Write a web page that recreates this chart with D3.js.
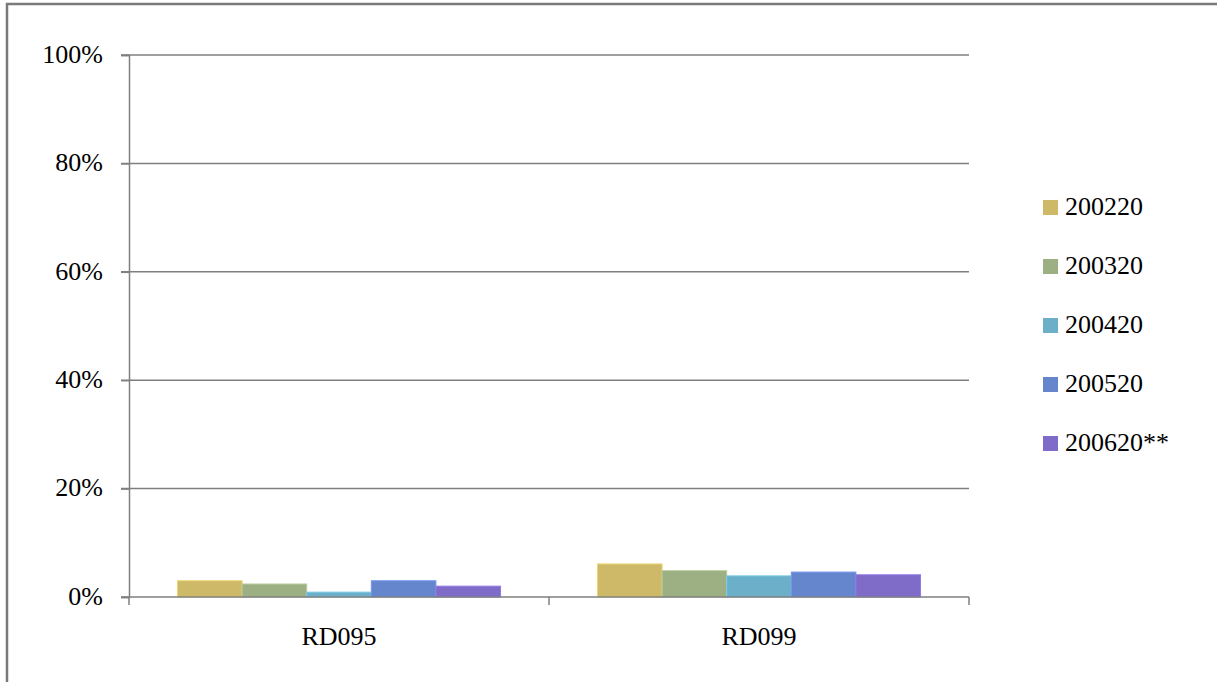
<html>
<head>
    <script src="https://d3js.org/d3.v7.min.js"></script>
    <style>
        body { margin: 0; background: #fff; }
        svg text { font-family: "Liberation Serif", "DejaVu Serif", serif; fill: #000; }
    </style>
</head>
<body>
<div id="chart"></div>
<script>
    // data
    var categories = ["RD095", "RD099"];
    var seriesNames = ["200220", "200320", "200420", "200520", "200620**"];
    var seriesValues = [
        [3.0, 6.1],   // 200220
        [2.4, 4.85],  // 200320
        [0.9, 3.9],   // 200420
        [3.0, 4.6],   // 200520
        [2.0, 4.1]    // 200620**
    ];
    var tickValues = [0, 20, 40, 60, 80, 100];
    var colors = ["#cdb967", "#9db083", "#6bb0c8", "#6585cd", "#7f6bc8"];

    var width = 1217, height = 682;
    var plotLeft = 129, plotRight = 969, plotTop = 55, plotBottom = 597;
    var fontSize = 26;

    var svg = d3.select("#chart").append("svg")
        .attr("width", width)
        .attr("height", height);

    // outer frame
    svg.append("rect")
        .attr("x", 7).attr("y", 4)
        .attr("width", 1230).attr("height", 700)
        .attr("fill", "none")
        .attr("stroke", "#7a7a7a")
        .attr("stroke-width", 2.5);

    var x0 = d3.scaleBand().domain(categories).range([plotLeft, plotRight]).paddingInner(0).paddingOuter(0);
    var x1 = d3.scaleBand().domain(seriesNames).range([0, x0.bandwidth()]).paddingOuter(0.75).paddingInner(0);
    var y = d3.scaleLinear().domain([0, 100]).range([plotBottom, plotTop]);

    // gridlines
    svg.append("g").selectAll("line")
        .data(tickValues.filter(function(d) { return d > 0; }))
        .enter().append("line")
        .attr("x1", plotLeft - 8).attr("x2", plotRight)
        .attr("y1", function(d) { return y(d); })
        .attr("y2", function(d) { return y(d); })
        .attr("stroke", "#7f7f7f")
        .attr("stroke-width", 1.5);

    // bars
    seriesNames.forEach(function(s, i) {
        svg.append("g").selectAll("rect")
            .data(categories)
            .enter().append("rect")
            .attr("x", function(c) { return x0(c) + x1(s); })
            .attr("width", x1.bandwidth())
            .attr("y", function(c, j) { return y(seriesValues[i][j]); })
            .attr("height", function(c, j) { return plotBottom - y(seriesValues[i][j]); })
            .attr("fill", colors[i])
            .attr("stroke", d3.color(colors[i]).brighter(0.4))
            .attr("stroke-width", 1);
    });

    // y axis
    var yAxis = svg.append("g")
        .attr("transform", "translate(" + plotLeft + ",0)")
        .call(d3.axisLeft(y).tickValues(tickValues).tickSize(8).tickPadding(18)
            .tickFormat(function(d) { return d + "%"; }));
    yAxis.select(".domain").attr("stroke", "#7f7f7f").attr("stroke-width", 1.5);
    yAxis.selectAll(".tick line").attr("stroke", "#7f7f7f").attr("stroke-width", 1.5);
    yAxis.selectAll("text").style("font-size", fontSize + "px")
        .style("font-family", "'Liberation Serif', serif").attr("fill", "#000")
        .attr("dy", "0.28em");

    // x axis
    var xAxis = svg.append("g")
        .attr("transform", "translate(0," + plotBottom + ")")
        .call(d3.axisBottom(x0).tickSize(0).tickPadding(30));
    xAxis.select(".domain").remove();
    xAxis.selectAll("text").style("font-size", fontSize + "px")
        .style("font-family", "'Liberation Serif', serif").attr("fill", "#000");
    svg.append("line")
        .attr("x1", plotLeft - 8).attr("x2", plotRight)
        .attr("y1", plotBottom).attr("y2", plotBottom)
        .attr("stroke", "#7f7f7f").attr("stroke-width", 1.5);
    svg.append("g").selectAll("line")
        .data(categories.map(function(c) { return x0(c); }).concat([plotRight]))
        .enter().append("line")
        .attr("x1", function(d) { return d; }).attr("x2", function(d) { return d; })
        .attr("y1", plotBottom).attr("y2", plotBottom + 8)
        .attr("stroke", "#7f7f7f").attr("stroke-width", 1.5);

    // legend
    var legend = svg.append("g").selectAll("g")
        .data(seriesNames)
        .enter().append("g")
        .attr("transform", function(d, i) { return "translate(1043," + (200 + i * 59) + ")"; });
    legend.append("rect")
        .attr("width", 15).attr("height", 15)
        .attr("fill", function(d, i) { return colors[i]; });
    legend.append("text")
        .attr("x", 22).attr("y", 7.5).attr("dy", "0.28em")
        .style("font-size", fontSize + "px")
        .text(function(d) { return d; });
</script>
</body>
</html>
